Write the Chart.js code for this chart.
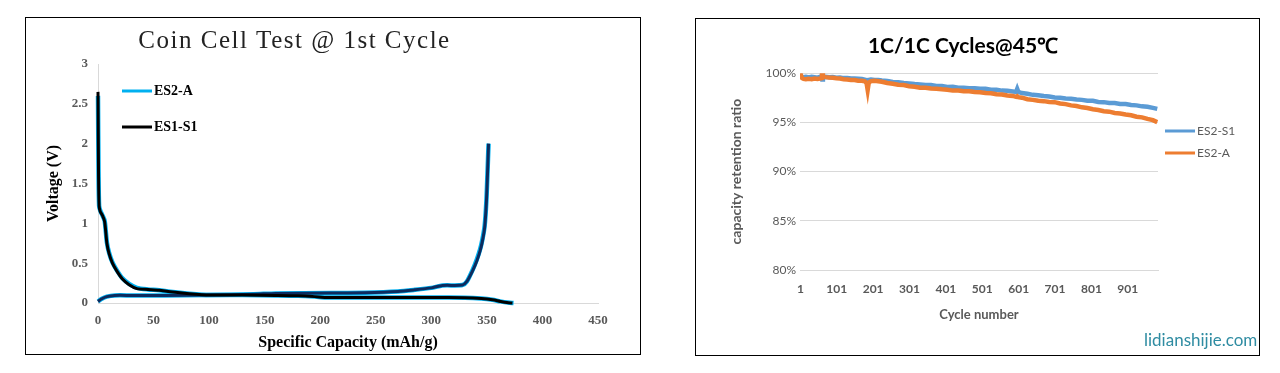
<!DOCTYPE html>
<html lang="en">
<head>
  <meta charset="UTF-8">
  <title>Coin Cell Test / Cycle Retention</title>
  <script src="https://cdn.jsdelivr.net/npm/chart.js"></script>
  <style>
    body { margin: 0; background: #fff; width: 1280px; height: 373px; position: relative; overflow: hidden; }
    .box { position: absolute; border: 1px solid #000; background: #fff; }
    #boxLeft { left: 25px; top: 17px; width: 614px; height: 336px; }
    #boxRight { left: 695px; top: 18px; width: 563px; height: 336px; }
    #watermark { position: absolute; left: 1144px; top: 329px; font: 17px Lato, sans-serif; color: #2f8ca2; }
  </style>
</head>
<body>
  <div class="box" id="boxLeft"><canvas id="voltChart" width="614" height="336"></canvas></div>
  <div class="box" id="boxRight"><canvas id="cycleChart" width="563" height="336"></canvas></div>
  <div id="watermark">lidianshijie.com</div>

  <script>
    // ---- left: first cycle voltage curves ----
    const voltNames = ['ES2-A', 'ES1-S1'];
    const voltColors = ['#00b0f0', '#000000'];
    const chargeColor = '#0d2b5e';

    // lithiation (starts at ~2.65 V)
    const es1DisCap = [0, 0.5, 1, 2, 4, 6, 8, 10, 13, 17, 22, 28, 35, 45, 55, 65, 80, 100, 130, 160, 180, 195, 205, 250, 300, 330, 345, 355, 362, 368, 373];
    const es1DisV   = [2.65, 1.6, 1.22, 1.15, 1.1, 1.02, 0.75, 0.62, 0.5, 0.4, 0.3, 0.23, 0.18, 0.17, 0.16, 0.14, 0.12, 0.1, 0.1, 0.095, 0.09, 0.08, 0.07, 0.07, 0.07, 0.065, 0.055, 0.04, 0.02, 0.005, 0];
    const es2DisCap = [0, 0.5, 1, 2, 4, 6, 8, 10, 13, 17, 22, 28, 35, 45, 55, 65, 80, 100, 130, 160, 180, 195, 205, 250, 300, 330, 345, 355, 362, 369, 374];
    const es2DisV   = [2.6, 1.6, 1.22, 1.16, 1.1, 1.03, 0.76, 0.63, 0.51, 0.41, 0.31, 0.24, 0.19, 0.17, 0.16, 0.14, 0.12, 0.1, 0.1, 0.095, 0.09, 0.08, 0.07, 0.07, 0.07, 0.065, 0.055, 0.04, 0.02, 0.005, 0];

    // delithiation (ends at 2.0 V)
    const es1ChgCap = [0, 3, 8, 15, 30, 60, 100, 140, 160, 210, 240, 270, 285, 300, 310, 328, 332, 337, 341, 344, 346, 348, 349.5, 350.5, 351.5];
    const es1ChgV   = [0.02, 0.05, 0.08, 0.095, 0.095, 0.095, 0.1, 0.11, 0.12, 0.125, 0.13, 0.145, 0.165, 0.19, 0.22, 0.225, 0.27, 0.4, 0.53, 0.66, 0.78, 0.95, 1.25, 1.6, 2.0];
    const es2ChgCap = [0, 3, 8, 15, 30, 60, 100, 140, 160, 210, 240, 270, 285, 300, 310, 328, 332, 337, 341, 344, 346, 348, 349.5, 350.5, 351.5];
    const es2ChgV   = [0.02, 0.05, 0.08, 0.095, 0.095, 0.095, 0.1, 0.11, 0.12, 0.125, 0.13, 0.145, 0.165, 0.19, 0.22, 0.225, 0.27, 0.41, 0.55, 0.68, 0.8, 0.97, 1.27, 1.62, 2.0];

    // ---- right: capacity retention at 45C ----
    const cycleNames = ['ES2-S1', 'ES2-A'];
    const cycleColors = ['#5b9bd5', '#ed7d31'];
    const cycleTicks = [1, 101, 201, 301, 401, 501, 601, 701, 801, 901];
    const cycles = [1, 3, 6, 10, 16, 24, 32, 40, 48, 55, 60, 61, 63, 70, 80, 90, 100, 110, 120, 130, 140, 150, 160, 170, 178, 183, 186, 189, 195, 205, 215, 225, 240, 255, 270, 285, 300, 315, 330, 345, 360, 375, 390, 405, 420, 435, 450, 465, 480, 495, 510, 525, 540, 555, 570, 585, 594, 597, 600, 610, 625, 640, 655, 670, 685, 700, 715, 730, 745, 760, 775, 790, 805, 820, 835, 850, 865, 880, 895, 910, 925, 940, 955, 970, 982];
    const es2s1 = [99.85, 99.7, 99.62, 99.6, 99.64, 99.56, 99.63, 99.6, 99.55, 99.63, 99.58, 99.35, 99.6, 99.64, 99.58, 99.6, 99.53, 99.57, 99.5, 99.52, 99.46, 99.47, 99.44, 99.4, 99.35, 99.3, 99.28, 99.32, 99.36, 99.31, 99.3, 99.25, 99.2, 99.1, 99.09, 99.0, 98.96, 98.9, 98.86, 98.8, 98.79, 98.71, 98.7, 98.6, 98.61, 98.53, 98.53, 98.48, 98.46, 98.41, 98.41, 98.33, 98.31, 98.23, 98.21, 98.14, 98.1, 98.4, 98.1, 97.98, 97.91, 97.8, 97.76, 97.68, 97.63, 97.53, 97.51, 97.43, 97.41, 97.33, 97.29, 97.2, 97.19, 97.08, 97.06, 96.98, 96.96, 96.88, 96.86, 96.76, 96.73, 96.63, 96.59, 96.48, 96.38];
    const es2a = [100.0, 99.75, 99.5, 99.42, 99.38, 99.44, 99.39, 99.46, 99.41, 99.46, 99.5, 100.4, 99.65, 99.6, 99.56, 99.53, 99.48, 99.46, 99.38, 99.36, 99.31, 99.31, 99.23, 99.23, 99.17, 99.0, 98.3, 99.05, 99.2, 99.23, 99.18, 99.13, 99.0, 98.93, 98.83, 98.79, 98.68, 98.63, 98.53, 98.53, 98.45, 98.43, 98.36, 98.31, 98.23, 98.23, 98.16, 98.16, 98.08, 98.06, 97.98, 97.96, 97.86, 97.83, 97.73, 97.69, 97.6, 97.66, 97.56, 97.51, 97.36, 97.29, 97.2, 97.16, 97.08, 97.06, 96.93, 96.86, 96.73, 96.66, 96.53, 96.46, 96.33, 96.26, 96.13, 96.09, 95.96, 95.91, 95.8, 95.73, 95.58, 95.51, 95.36, 95.23, 95.03];

    const pts = (xs, ys) => xs.map((x, i) => ({ x: x, y: ys[i] }));

    // simple line-swatch legend placed at fixed spot
    const lineLegend = {
      id: 'lineLegend',
      afterDraw(chart, args, opts) {
        const ctx = chart.ctx;
        ctx.save();
        opts.labels.forEach((label, i) => {
          const y = opts.y + i * opts.gap;
          ctx.strokeStyle = opts.colors[i];
          ctx.lineWidth = opts.lineWidth;
          ctx.beginPath();
          ctx.moveTo(opts.x, y);
          ctx.lineTo(opts.x + opts.len, y);
          ctx.stroke();
          ctx.fillStyle = opts.textColor;
          ctx.font = opts.font;
          ctx.textBaseline = 'middle';
          ctx.fillText(label, opts.x + opts.len + 2, y);
        });
        ctx.restore();
      }
    };

    // the left title is letter-spaced in the original
    const spacedTitle = {
      id: 'spacedTitle',
      beforeDraw(chart, args, opts) {
        const tb = chart.titleBlock;
        if (!tb || tb._spaced) return;
        const orig = tb.draw;
        tb.draw = function () {
          const ctx = this.ctx;
          ctx.save();
          ctx.letterSpacing = opts.spacing;
          orig.apply(this, arguments);
          ctx.restore();
        };
        tb._spaced = true;
      }
    };

    const serif = 'Liberation Serif';

    new Chart(document.getElementById('voltChart'), {
      type: 'line',
      data: {
        datasets: [
          { label: voltNames[1], data: pts(es1DisCap, es1DisV), borderColor: voltColors[1], borderWidth: 3 },
          { label: voltNames[1], data: pts(es1ChgCap, es1ChgV), borderColor: chargeColor, borderWidth: 3 },
          { label: voltNames[0], data: pts(es2DisCap, es2DisV), borderColor: voltColors[0], borderWidth: 4.5 },
          { label: voltNames[0], data: pts(es2ChgCap, es2ChgV), borderColor: voltColors[0], borderWidth: 4.5 }
        ]
      },
      options: {
        responsive: false,
        animation: false,
        devicePixelRatio: 1,
        layout: { padding: { left: -35, right: 42, top: 0, bottom: 0 } },
        elements: { point: { radius: 0 }, line: { tension: 0.25, fill: false } },
        datasets: { line: { clip: 4 } },
        plugins: {
          legend: { display: false },
          tooltip: { enabled: false },
          title: {
            display: true,
            text: 'Coin Cell Test @ 1st Cycle',
            color: '#222',
            font: { family: serif, size: 25, weight: 'normal' },
            padding: { top: 8, bottom: 8 }
          },
          spacedTitle: { spacing: '1.5px' },
          lineLegend: {
            labels: voltNames, colors: voltColors,
            x: 96, y: 73, gap: 36, len: 30, lineWidth: 3,
            textColor: '#000', font: 'bold 14px "Liberation Serif"'
          }
        },
        scales: {
          x: {
            type: 'linear', min: 0, max: 450,
            ticks: { stepSize: 50, padding: 10, color: '#595959', font: { family: serif, size: 13, weight: 'bold' } },
            grid: { display: false, drawTicks: false },
            border: { display: true, color: '#d9d9d9' },
            title: { display: true, text: 'Specific Capacity (mAh/g)', color: '#000', font: { family: serif, size: 16, weight: 'bold' }, padding: { top: 0, bottom: 2 } },
            afterFit: s => { s.height = 51; }
          },
          y: {
            min: 0, max: 3,
            ticks: { stepSize: 0.5, padding: 10, color: '#595959', font: { family: serif, size: 13, weight: 'bold' }, callback: v => String(v) },
            grid: { display: false, drawTicks: false },
            border: { display: true, color: '#d9d9d9' },
            title: { display: true, text: 'Voltage (V)', color: '#000', font: { family: serif, size: 16, weight: 'bold' }, padding: { top: 53, bottom: 0 } },
            afterFit: s => { s.width = 107; }
          }
        }
      },
      plugins: [lineLegend, spacedTitle]
    });

    const sans = 'Lato';

    new Chart(document.getElementById('cycleChart'), {
      type: 'line',
      data: {
        datasets: [
          { label: cycleNames[0], data: pts(cycles, es2s1), borderColor: cycleColors[0], borderWidth: 4.5, order: 2 },
          { label: cycleNames[1], data: pts(cycles, es2a), borderColor: cycleColors[1], borderWidth: 4.5, order: 1 }
        ]
      },
      options: {
        responsive: false,
        animation: false,
        devicePixelRatio: 1,
        layout: { padding: { left: 0, right: 29, top: 0, bottom: 0 } },
        elements: { point: { radius: 0 }, line: { tension: 0, fill: false } },
        plugins: {
          legend: { display: false },
          tooltip: { enabled: false },
          title: {
            display: true,
            text: '1C/1C Cycles@45\u2103',
            color: '#000',
            font: { family: sans, size: 21, weight: 'bold' },
            padding: { top: 15, bottom: 14 }
          },
          lineLegend: {
            labels: cycleNames, colors: cycleColors,
            x: 469, y: 112, gap: 22, len: 30, lineWidth: 3,
            textColor: '#595959', font: '12px Lato'
          }
        },
        scales: {
          x: {
            type: 'linear', min: 0, max: 984,
            afterBuildTicks: s => { s.ticks = cycleTicks.map(v => ({ value: v })); },
            ticks: { padding: 12, color: '#595959', font: { family: sans, size: 12, weight: 'bold' }, maxRotation: 0, autoSkip: false },
            grid: { display: false, drawTicks: false },
            border: { display: true, color: '#d9d9d9' },
            title: { display: true, text: 'Cycle number', color: '#595959', font: { family: sans, size: 13, weight: 'bold' }, padding: { top: 0, bottom: 32 } },
            afterFit: s => { s.height = 85; }
          },
          y: {
            min: 80, max: 100,
            ticks: { stepSize: 5, padding: 4, color: '#595959', font: { family: sans, size: 12 }, callback: v => v + '%' },
            grid: { color: '#d9d9d9', drawTicks: false },
            border: { display: false },
            title: { display: true, text: 'capacity retention ratio', color: '#595959', font: { family: sans, size: 14, weight: 'bold' }, padding: { top: 32, bottom: 0 } },
            afterFit: s => { s.width = 104; }
          },
          yR: {
            position: 'right',
            display: true,
            ticks: { display: false },
            grid: { display: false, drawTicks: false },
            border: { display: false },
            afterFit: s => { s.width = 72; }
          }
        }
      },
      plugins: [lineLegend]
    });
  </script>
</body>
</html>
